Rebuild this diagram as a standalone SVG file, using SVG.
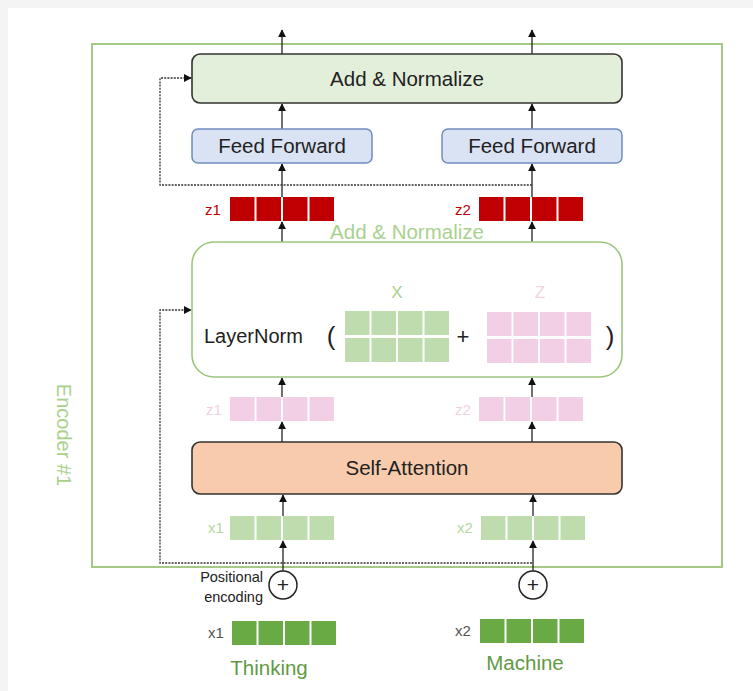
<svg xmlns="http://www.w3.org/2000/svg" width="753" height="691" viewBox="0 0 753 691">
<style>
text{font-family:"Liberation Sans","Open Sans",sans-serif}
.lbl{font-size:20.5px;fill:#222;text-anchor:middle}
.ln{stroke:#222;stroke-width:1.3;fill:none}
.dot{stroke:#333;stroke-width:1.3;fill:none;stroke-dasharray:2 1.2}
.red{fill:#c00000}
.pink{fill:#f2cfe4}
.lg{fill:#bedcae}
.dg{fill:#6aaa45}
</style>
<defs>
<marker id="ah" viewBox="0 0 10 10" refX="9" refY="5" markerWidth="8" markerHeight="8" markerUnits="userSpaceOnUse" orient="auto">
<path d="M0,0 L10,5 L0,10 Z" fill="#111"/>
</marker>
<g id="row4"><rect x="0" y="0" width="24.5" height="24"/><rect x="26.5" y="0" width="24.5" height="24"/><rect x="53" y="0" width="24.5" height="24"/><rect x="79.5" y="0" width="24.5" height="24"/></g>
</defs>
<rect x="0" y="0" width="753" height="691" fill="#f4f4f4"/>
<rect x="8" y="8" width="745" height="683" fill="#ffffff"/>

<g id="encoder">
<rect x="92" y="44" width="630" height="523" fill="none" stroke="#a3c985" stroke-width="2"/>
<text x="62" y="435" transform="rotate(90 62 435)" font-size="20" fill="#a9d18e" text-anchor="middle" dominant-baseline="middle">Encoder #1</text>
</g>

<g id="connectors">
<line class="ln" x1="282" y1="54" x2="282" y2="30" marker-end="url(#ah)"/>
<line class="ln" x1="532" y1="54" x2="532" y2="30" marker-end="url(#ah)"/>
<line class="ln" x1="282" y1="129" x2="282" y2="104" marker-end="url(#ah)"/>
<line class="ln" x1="532" y1="129" x2="532" y2="104" marker-end="url(#ah)"/>
<line class="ln" x1="282" y1="197" x2="282" y2="164" marker-end="url(#ah)"/>
<line class="ln" x1="532" y1="197" x2="532" y2="164" marker-end="url(#ah)"/>
<line class="ln" x1="282" y1="242" x2="282" y2="222" marker-end="url(#ah)"/>
<line class="ln" x1="532" y1="242" x2="532" y2="222" marker-end="url(#ah)"/>
<line class="ln" x1="282" y1="397" x2="282" y2="378" marker-end="url(#ah)"/>
<line class="ln" x1="532" y1="397" x2="532" y2="378" marker-end="url(#ah)"/>
<line class="ln" x1="282" y1="442" x2="282" y2="422" marker-end="url(#ah)"/>
<line class="ln" x1="532" y1="442" x2="532" y2="422" marker-end="url(#ah)"/>
<line class="ln" x1="283" y1="516" x2="283" y2="495" marker-end="url(#ah)"/>
<line class="ln" x1="533" y1="516" x2="533" y2="495" marker-end="url(#ah)"/>
<line class="ln" x1="283" y1="571" x2="283" y2="541" marker-end="url(#ah)"/>
<line class="ln" x1="533" y1="571" x2="533" y2="541" marker-end="url(#ah)"/>
<polyline class="dot" points="532,185 160,185 160,78 191,78" marker-end="url(#ah)"/>
<polyline class="dot" points="532,563 160,563 160,310 191,310" marker-end="url(#ah)"/>
</g>

<g id="add-normalize-top">
<rect x="192" y="54" width="430" height="49" rx="8" fill="#e2efda" stroke="#333" stroke-width="1.6"/>
<text class="lbl" x="407" y="86">Add &amp; Normalize</text>
</g>

<g id="feed-forward-1">
<rect x="192" y="129" width="180" height="34" rx="6" fill="#dae3f3" stroke="#6f8cbf" stroke-width="1.5"/>
<text class="lbl" x="282" y="153">Feed Forward</text>
</g>
<g id="feed-forward-2">
<rect x="442" y="129" width="180" height="34" rx="6" fill="#dae3f3" stroke="#6f8cbf" stroke-width="1.5"/>
<text class="lbl" x="532" y="153">Feed Forward</text>
</g>

<g id="z-out-1">
<text x="213" y="215" font-size="15" fill="#c00000" text-anchor="middle">z1</text>
<use href="#row4" class="red" x="230" y="197"/>
</g>
<g id="z-out-2">
<text x="463" y="215" font-size="15" fill="#c00000" text-anchor="middle">z2</text>
<use href="#row4" class="red" x="479" y="197"/>
</g>

<g id="layernorm">
<text x="407" y="239" font-size="20.5" fill="#a9d18e" text-anchor="middle">Add &amp; Normalize</text>
<rect x="192" y="242" width="430" height="135" rx="22" fill="#fff" stroke="#9cc67f" stroke-width="1.6"/>
<text x="204" y="343" font-size="20" fill="#222">LayerNorm</text>
<text x="331" y="345" font-size="26" fill="#222" text-anchor="middle">(</text>
<text x="397" y="298" font-size="17" fill="#a9d18e" text-anchor="middle">X</text>
<use href="#row4" class="lg" x="345" y="311"/>
<use href="#row4" class="lg" x="345" y="338"/>
<text x="463" y="344" font-size="22" fill="#222" text-anchor="middle">+</text>
<text x="540" y="298" font-size="17" fill="#f2d3e5" text-anchor="middle">Z</text>
<use href="#row4" class="pink" x="487" y="312"/>
<use href="#row4" class="pink" x="487" y="339"/>
<text x="610" y="345" font-size="26" fill="#222" text-anchor="middle">)</text>
</g>

<g id="z-attn-1">
<text x="214" y="415" font-size="15" fill="#f2cfe4" text-anchor="middle">z1</text>
<use href="#row4" class="pink" x="230" y="397"/>
</g>
<g id="z-attn-2">
<text x="463" y="415" font-size="15" fill="#f2cfe4" text-anchor="middle">z2</text>
<use href="#row4" class="pink" x="479" y="397"/>
</g>

<g id="self-attention">
<rect x="192" y="442" width="430" height="52" rx="8" fill="#f8cbad" stroke="#333" stroke-width="1.6"/>
<text class="lbl" x="407" y="475">Self-Attention</text>
</g>

<g id="x-in-1">
<text x="216" y="533" font-size="15" fill="#b5d7a0" text-anchor="middle">x1</text>
<use href="#row4" class="lg" x="230" y="516"/>
</g>
<g id="x-in-2">
<text x="465" y="533" font-size="15" fill="#b5d7a0" text-anchor="middle">x2</text>
<use href="#row4" class="lg" x="481" y="516"/>
</g>

<g id="pos-enc-1">
<circle cx="283" cy="585" r="14" fill="#fff" stroke="#222" stroke-width="1.5"/>
<text x="283" y="592" font-size="21" fill="#222" text-anchor="middle">+</text>
<text x="263" y="582" font-size="14.5" fill="#222" text-anchor="end">Positional</text>
<text x="263" y="602" font-size="14.5" fill="#222" text-anchor="end">encoding</text>
</g>
<g id="pos-enc-2">
<circle cx="533" cy="585" r="14" fill="#fff" stroke="#222" stroke-width="1.5"/>
<text x="533" y="592" font-size="21" fill="#222" text-anchor="middle">+</text>
</g>

<g id="embed-1">
<text x="216" y="638" font-size="15" fill="#555" text-anchor="middle">x1</text>
<use href="#row4" class="dg" x="232" y="621"/>
<text x="269" y="675" font-size="20.5" fill="#5f9a44" text-anchor="middle">Thinking</text>
</g>
<g id="embed-2">
<text x="463" y="636" font-size="15" fill="#555" text-anchor="middle">x2</text>
<use href="#row4" class="dg" x="480" y="619"/>
<text x="525" y="670" font-size="20.5" fill="#5f9a44" text-anchor="middle">Machine</text>
</g>
</svg>
